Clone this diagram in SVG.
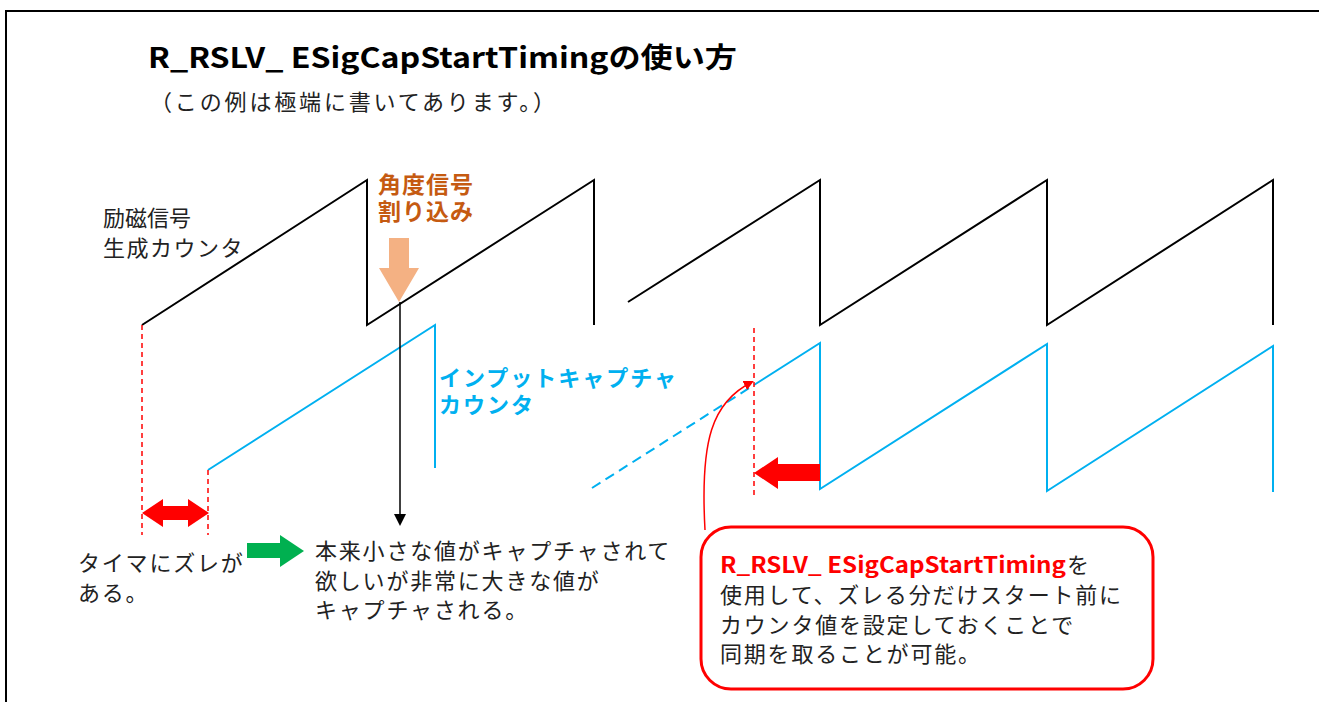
<svg xmlns="http://www.w3.org/2000/svg" width="1319" height="702" viewBox="0 0 1319 702">
<style>
text{font-family:"Noto Sans CJK JP","Noto Sans",sans-serif;}
.t{font-size:22px;fill:#222;}
.b{font-weight:bold;}
.blk{fill:none;stroke:#000;stroke-width:2;stroke-linejoin:miter;}
.blu{fill:none;stroke:#00B0F0;stroke-width:2;}
.rd{fill:none;stroke:#FF0000;stroke-width:1.5;stroke-dasharray:5 4;}
</style>
<defs>
<marker id="ah" markerWidth="10" markerHeight="10" refX="8" refY="5" orient="auto" markerUnits="userSpaceOnUse" viewBox="0 0 10 10">
<path d="M0,0 L10,5 L0,10 z" fill="#FF0000"/>
</marker>
</defs>
<rect x="6" y="11" width="1320" height="700" fill="#fff" stroke="#000" stroke-width="2"/>
<g id="title">
<text x="148" y="68" class="b" font-size="28" textLength="589" lengthAdjust="spacingAndGlyphs">R_RSLV_ ESigCapStartTimingの使い方</text>
<text x="150" y="110" class="t" textLength="405" lengthAdjust="spacing">（この例は極端に書いてあります。）</text>
</g>
<g id="connectors">
<polyline class="blk" points="142,325 367,180 367,325 594,180 594,325"/>
<polyline class="blk" points="628,302 820,180 820,325 1047,180 1047,325 1273,180 1273,325"/>
<polyline class="blu" points="208,470 435,325 435,468"/>
<line class="blu" x1="592" y1="488" x2="754" y2="385" stroke-dasharray="10 6"/>
<polyline class="blu" points="754,385 820,343 820,489 1047,344 1047,491 1273,346 1273,492"/>
<line class="rd" x1="142" y1="325" x2="142" y2="535"/>
<line class="rd" x1="208" y1="470" x2="208" y2="535"/>
<line class="rd" x1="754" y1="328" x2="754" y2="498"/>
<polygon points="142,513 163,499 163,506 188,506 188,499 209,513 188,527 188,520 163,520 163,527" fill="#FF0000"/>
<polygon points="247,543 280,543 280,535 304,551 280,567 280,558 247,558" fill="#00B050"/>
<polygon points="389,238 409,238 409,268 419,268 399,302 379,268 389,268" fill="#F4B183"/>
<line x1="400" y1="302" x2="400" y2="515" stroke="#000" stroke-width="1.5"/>
<polygon points="394,514 406,514 400,526" fill="#000"/>
<polygon points="820,464 778,464 778,457 754,473 778,489 778,481 820,481" fill="#FF0000"/>
<path d="M705,530 C700,440 712,402 752,382" fill="none" stroke="#FF0000" stroke-width="1.5" marker-end="url(#ah)"/>
</g>
<g id="label-excite">
<text x="103" y="226" class="t">励磁信号</text>
<text x="103" y="256" class="t" letter-spacing="1.5">生成カウンタ</text>
</g>
<g id="label-angle">
<text x="378" y="193" class="b" font-size="23" fill="#C55A11" letter-spacing="1">角度信号</text>
<text x="378" y="220" class="b" font-size="23" fill="#C55A11" letter-spacing="1">割り込み</text>
</g>
<g id="label-capture">
<text x="439" y="386" class="b" font-size="22" fill="#00B0F0" letter-spacing="2">インプットキャプチャ</text>
<text x="439" y="413" class="b" font-size="22" fill="#00B0F0" letter-spacing="2">カウンタ</text>
</g>
<g id="label-timer">
<text x="78" y="571" class="t" letter-spacing="1.8">タイマにズレが</text>
<text x="78" y="601" class="t" letter-spacing="1.8">ある。</text>
</g>
<g id="label-result">
<text x="315" y="559" class="t" letter-spacing="1.8">本来小さな値がキャプチャされて</text>
<text x="315" y="589" class="t" letter-spacing="1.8">欲しいが非常に大きな値が</text>
<text x="315" y="618" class="t" letter-spacing="1.8">キャプチャされる。</text>
</g>
<g id="callout">
<rect x="701" y="527" width="452" height="162" rx="30" ry="30" fill="#fff" stroke="#FF0000" stroke-width="3"/>
<text x="720" y="573" class="b" font-size="22" fill="#FF0000" textLength="346" lengthAdjust="spacingAndGlyphs">R_RSLV_ ESigCapStartTiming</text>
<text x="1067" y="573" class="t">を</text>
<text x="720" y="603" class="t" letter-spacing="1.8">使用して、ズレる分だけスタート前に</text>
<text x="720" y="633" class="t" letter-spacing="1.8">カウンタ値を設定しておくことで</text>
<text x="720" y="662" class="t" letter-spacing="1.8">同期を取ることが可能。</text>
</g>
</svg>
